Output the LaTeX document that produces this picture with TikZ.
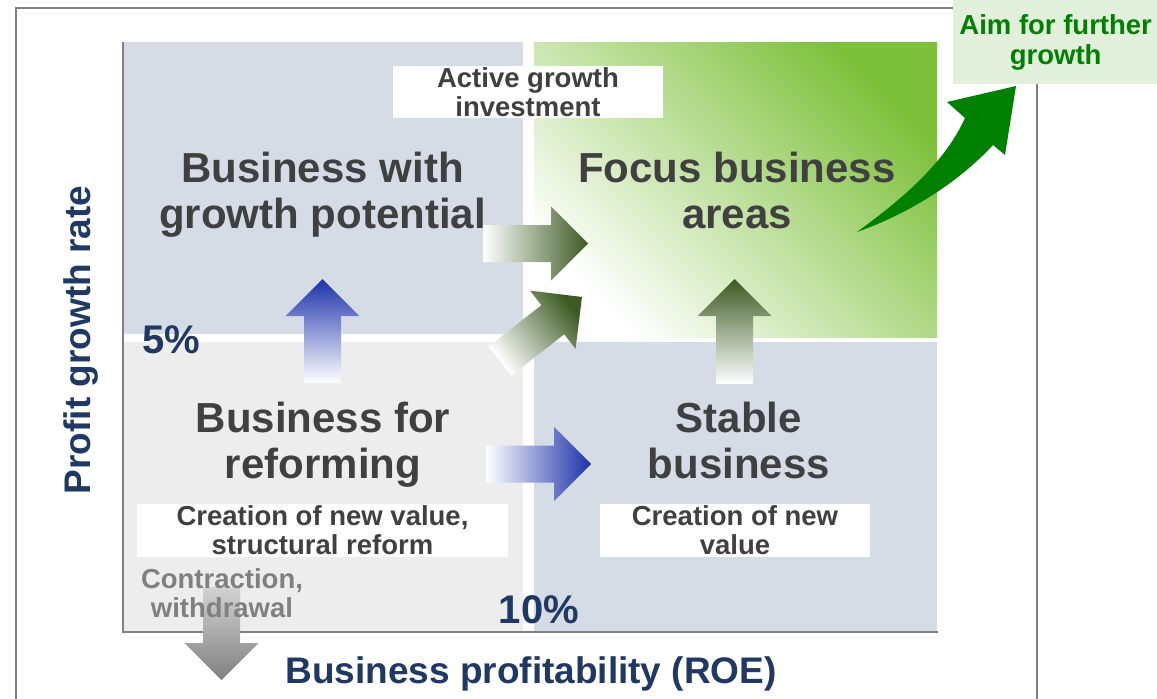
\documentclass[tikz,border=0pt]{standalone}
\usepackage{fontspec}
\setmainfont{Liberation Sans}
\usepackage{tikz}
\usetikzlibrary{positioning}
\definecolor{quadblue}{RGB}{214,220,229}
\definecolor{quadgray}{RGB}{237,237,237}
\definecolor{quadgreen}{RGB}{125,192,58}
\definecolor{txtgray}{RGB}{64,64,64}
\definecolor{navy}{RGB}{31,56,100}
\definecolor{arrgreen}{RGB}{61,90,35}
\definecolor{arrblue}{RGB}{28,50,170}
\definecolor{aimgreen}{RGB}{0,128,0}
\definecolor{aimbox}{RGB}{226,239,218}
\definecolor{framegray}{RGB}{128,128,128}
\tikzset{quadrant/.style={
    % The shape:
    rectangle,
    anchor=north west,
    inner sep=0pt,
    },
    bigtext/.style={
    % Font
    font=\fontsize{42}{46}\selectfont\bfseries,
    text=txtgray,
    align=center,
    anchor=base,
    },
    notebox/.style={
    rectangle,
    fill=white,
    inner sep=0pt,
    minimum height=53pt,
    font=\fontsize{27.5}{29}\selectfont\bfseries,
    text=txtgray,
    align=center,
    },
    axislabel/.style={
    font=\fontsize{37}{40}\selectfont\bfseries,
    text=navy,
    anchor=base,
    },
    pctlabel/.style={
    font=\fontsize{40}{44}\selectfont\bfseries,
    text=navy,
    anchor=base,
    },
}
% block arrow: style, tail point, angle, length
\newcommand{\blockarrow}[4]{%
  \path[#1,shift={#2},rotate=#3] (0,-18.5) -- ({#4-37},-18.5) -- ({#4-37},-37)
    -- (#4,0) -- ({#4-37},37) -- ({#4-37},18.5) -- (0,18.5) -- cycle;}
\begin{document}
\begin{tikzpicture}[x=1pt,y=-1pt]
    \useasboundingbox (0,0) rectangle (1157,699);
    \draw[framegray,line width=2.5pt] (16,8) rectangle (1037,720);

    \node (tl) [quadrant,fill=quadblue,minimum width=400pt,minimum height=292pt] at (123,42) {};
    \node (tr) [quadrant,minimum width=403pt,minimum height=295pt,top color=quadgreen,
                middle color=quadgreen!40!white,bottom color=white,shading angle=-45] at (534,42) {};
    \node (bl) [quadrant,fill=quadgray,minimum width=400pt,minimum height=290pt] at (123,342) {};
    \node (br) [quadrant,fill=quadblue,minimum width=403pt,minimum height=290pt] at (534,342) {};
    \draw[framegray,line width=2pt] (tl.north west) -- (123,632) -- (938,632);

    \node (invest) [notebox,minimum width=270pt,minimum height=52pt] at (528,92) {Active growth\\investment};
    \node (potential) [bigtext] at (322.5,228) {Business with\\growth potential};
    \node (focus)     [bigtext] at (737,228)   {Focus business\\areas};
    \node (reform)    [bigtext] at (323,478)   {Business for\\reforming};
    \node (stable)    [bigtext] at (739,478)   {Stable\\business};
    \node (newval)    [notebox,minimum width=371pt] at (322.5,530.5) {Creation of new value,\\structural reform};
    \node (newval2)   [notebox,minimum width=270pt] at (735,530.5)   {Creation of new\\value};

    \blockarrow{top color=framegray!35,bottom color=framegray}{(221.5,587)}{-90}{93}
    \node (withdraw) [font=\fontsize{27.5}{29}\selectfont\bfseries,text=framegray,align=center,anchor=base]
        at (222,617) {Contraction,\\withdrawal};

    \blockarrow{top color=arrblue,middle color=arrblue!70,bottom color=white}{(322.5,383)}{90}{104}
    \blockarrow{top color=arrgreen,middle color=arrgreen!80,bottom color=white}{(734.5,384)}{90}{105}
    \blockarrow{left color=white,middle color=arrgreen!90,right color=arrgreen}{(483,243.5)}{0}{105}
    \blockarrow{left color=white,middle color=arrblue!70,right color=arrblue}{(486,464)}{0}{105}
    \blockarrow{top color=arrgreen,middle color=arrgreen!80,bottom color=white,shading angle=-52}{(500,361)}{38}{104}

    \node (five) [pctlabel] at (171,353) {5\%};
    \node (ten)  [pctlabel] at (539,623) {10\%};
    \node (yaxis) [axislabel,rotate=90] at (90,340) {Profit growth rate};
    \node (xaxis) [axislabel] at (531,683) {Business profitability (ROE)};

    \node (aim) [quadrant,fill=aimbox,minimum width=205pt,minimum height=84pt,
                 font=\fontsize{27.5}{30}\selectfont\bfseries,text=aimgreen,align=center] at (953,0)
        {Aim for further\\growth};
    \fill[aimgreen] (857,232) .. controls (905,197) and (945,162) .. (965,118) -- (947,102)
        -- (1016,86) -- (1005,155) -- (993,145) .. controls (958,183) and (908,214) .. cycle;
\end{tikzpicture}
\end{document}
